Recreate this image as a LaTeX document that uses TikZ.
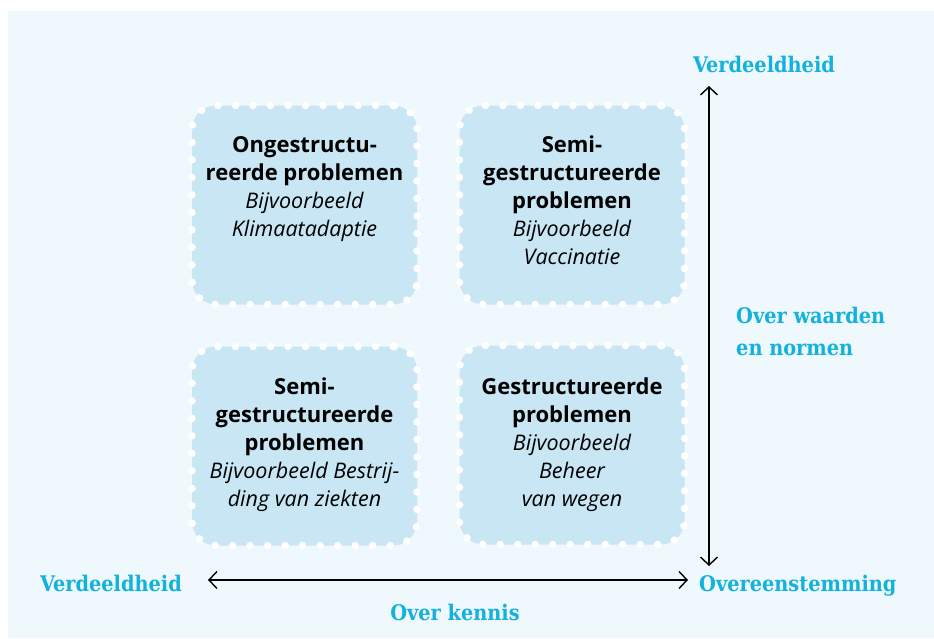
\documentclass[tikz,border=0pt]{standalone}
\usepackage{fontspec}
\setsansfont{Open Sans}
\newfontfamily\labelfont{DejaVu Serif Condensed}
\usetikzlibrary{arrows.meta}
\definecolor{bgblue}{HTML}{EFF8FC}
\definecolor{boxblue}{HTML}{C8E6F3}
\definecolor{axcyan}{HTML}{12B2DC}
\newcommand\bln[1]{{\fontsize{22pt}{28pt}\selectfont\bfseries #1}}
\newcommand\itn[1]{{\fontsize{21.5pt}{28pt}\selectfont\itshape #1}}
\tikzset{
  probbox/.style={rectangle, rounded corners=24pt, minimum width=225pt, minimum height=199pt,
    fill=boxblue, draw=white, line width=7.5pt, dash pattern=on 0pt off 17.5pt, line cap=round, inner sep=0pt},
  probtext/.style={anchor=north, align=center, inner sep=0pt,
    font=\sffamily\fontsize{21.5pt}{28pt}\selectfont},
  axlabel/.style={text=axcyan, inner sep=0pt, font=\labelfont\bfseries\fontsize{21.5pt}{32.5pt}\selectfont},
  axarrow/.style={{Straight Barb[length=8pt,width=17pt]}-{Straight Barb[length=8pt,width=17pt]}, line width=1.4pt, black}
}
\begin{document}
\begin{tikzpicture}[x=1pt,y=-1pt]
\useasboundingbox (0,0) rectangle (934,638);
\fill[bgblue] (8,11) rectangle (934,638);

\node[probbox] (tl) at (304.5,205) {};
\node[probbox] (tr) at (572,205) {};
\node[probbox] (bl) at (304.5,446) {};
\node[probbox] (br) at (572,445) {};

\node[probtext] (tlt) at (304.5,136) {\bln{Ongestructu-}\\\bln{reerde problemen}\\\itn{Bijvoorbeeld}\\\itn{Klimaatadaptie}};
\node[probtext] (trt) at (572,135.5) {\bln{Semi-}\\\bln{gestructureerde}\\\bln{problemen}\\\itn{Bijvoorbeeld}\\\itn{Vaccinatie}};
\node[probtext] (blt) at (304.5,377.5) {\bln{Semi-}\\\bln{gestructureerde}\\\bln{problemen}\\\itn{Bijvoorbeeld Bestrij-}\\\itn{ding van ziekten}};
\node[probtext] (brt) at (572,378) {\bln{Gestructureerde}\\\bln{problemen}\\\itn{Bijvoorbeeld}\\\itn{Beheer}\\\itn{van wegen}};

\coordinate (vtop) at (709,86);
\coordinate (vbot) at (709,566);
\coordinate (hleft) at (208,580);
\coordinate (hright) at (688,580);
\draw[axarrow] (vtop) -- (vbot);
\draw[axarrow] (hleft) -- (hright);

\node[axlabel, anchor=base] (ltop) at (764,72) {Verdeeldheid};
\node[axlabel, anchor=base west] (lright) at (699,591) {Overeenstemming};
\node[axlabel, anchor=base east] (lleft) at (182,591) {Verdeeldheid};
\node[axlabel, anchor=base] (lbot) at (455,620) {Over kennis};
\node[axlabel, anchor=north west, align=left] (lmid) at (736,306.5) {Over waarden\\en normen};
\end{tikzpicture}
\end{document}
